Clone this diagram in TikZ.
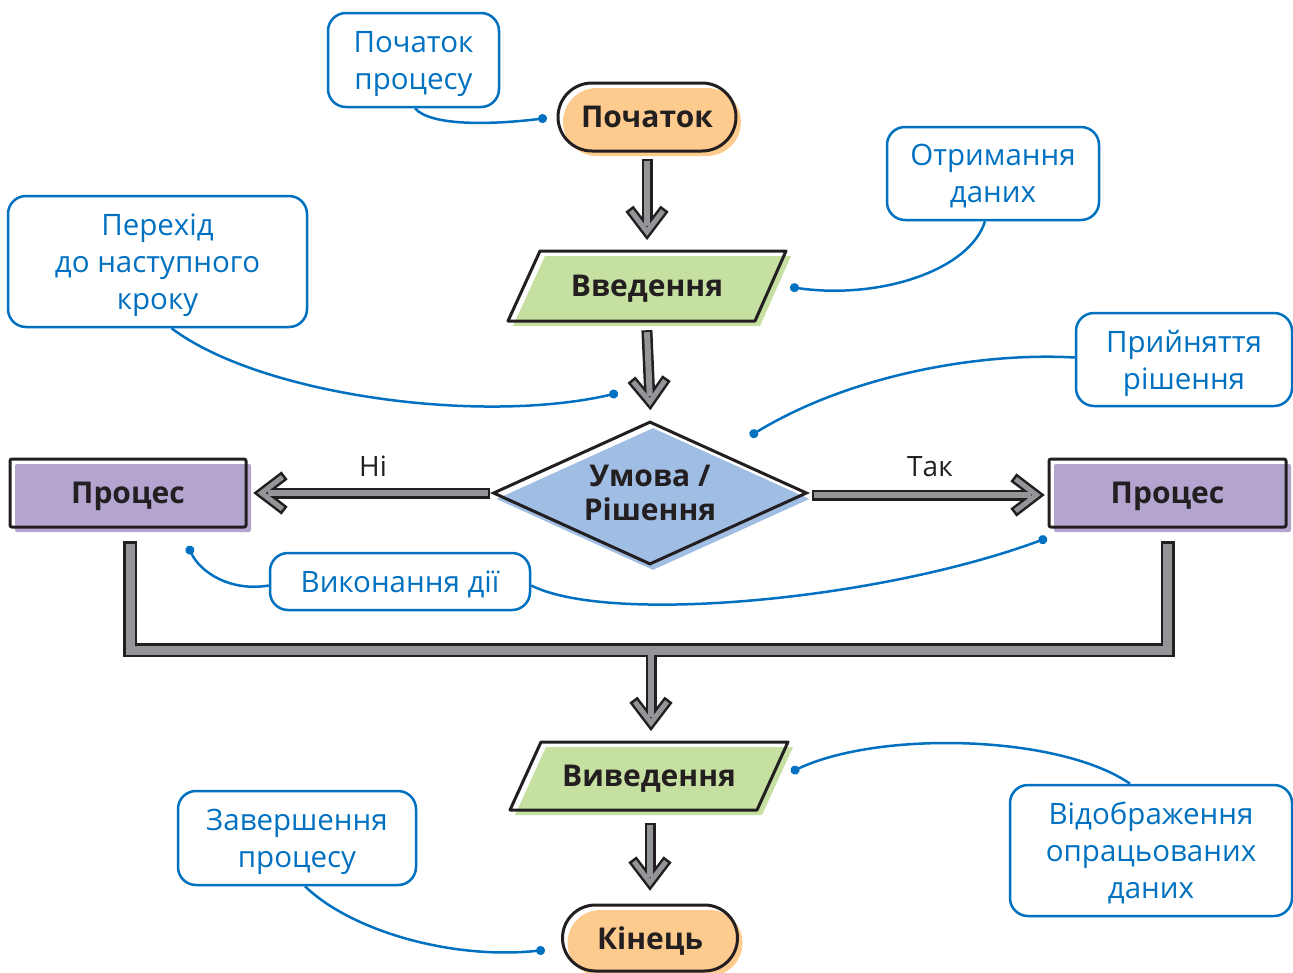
\documentclass[tikz,border=0pt]{standalone}
\usepackage{fontspec}
\setmainfont{Open Sans}
\usetikzlibrary{shapes.misc,shapes.geometric,shadows,calc,arrows.meta}
\definecolor{txtdark}{HTML}{231F20}
\definecolor{orangefill}{HTML}{FDCB8D}
\definecolor{greenfill}{HTML}{C5E0A0}
\definecolor{bluefill}{HTML}{A0BDE4}
\definecolor{purplefill}{HTML}{B4A4D0}
\definecolor{cblue}{HTML}{0070C0}
\definecolor{agray}{HTML}{939598}
\newcommand\flowarrow[3][2pt]{%
  \coordinate (fgm) at ($(#3)!21pt!(#2)$);
  \coordinate (fgl) at ($(fgm)!16pt!90:(#3)$);
  \coordinate (fgr) at ($(fgm)!16pt!-90:(#3)$);
  \coordinate (fbl) at ($(#3)!1.1!(fgl)$);
  \coordinate (fbr) at ($(#3)!1.1!(fgr)$);
  \draw[arrowout,line width=11pt] ($(#2)!-#1!(#3)$) -- ($(#3)!6pt!(#2)$);
  \draw[arrowout,line width=10pt] (fbl) -- (#3) -- (fbr);
  \draw[arrowin,line width=6pt] (#2) -- ($(#3)!6pt!(#2)$);
  \draw[arrowin,line width=5pt] (fgl) -- (#3) -- (fgr);
}
\begin{document}
\begin{tikzpicture}[x=1pt,y=-1pt,
  arrowout/.style={draw=txtdark,line join=miter,line cap=butt},
  arrowin/.style={draw=agray,line join=miter,line cap=butt},
  flowshape/.style={draw=txtdark,line width=3pt,text=txtdark,inner sep=0pt,align=center,
    text depth=0pt,font=\bfseries\fontsize{30}{34}\selectfont},
  terminal/.style={flowshape,rounded rectangle,minimum height=68pt,
    general shadow={fill=orangefill,shadow xshift=5pt,shadow yshift=-5pt}},
  procbox/.style={flowshape,rectangle,rounded corners=2pt,minimum width=236pt,minimum height=68pt,
    general shadow={fill=purplefill,shadow xshift=5pt,shadow yshift=-5pt}},
  decbox/.style={flowshape,diamond,aspect=2.2,minimum width=314pt,minimum height=143pt,
    general shadow={fill=bluefill,shadow xshift=3pt,shadow yshift=-6pt}},
  iotext/.style={text=txtdark,inner sep=0pt,text depth=0pt,
    font=\bfseries\fontsize{30}{34}\selectfont},
  iofill/.style={fill=greenfill},
  ioline/.style={draw=txtdark,line width=3pt,line join=round},
  callout/.style={draw=cblue,line width=2.5pt,rounded corners=18pt,text=cblue,align=center,
    inner sep=0pt,text depth=0pt,font=\fontsize{29.5}{37}\selectfont},
  cline/.style={draw=cblue,line width=2.5pt,-{Circle[length=9pt]}},
  lbl/.style={text=txtdark,inner sep=0pt,text depth=0pt,font=\fontsize{28}{34}\selectfont}
]
\useasboundingbox (0,0) rectangle (1293,972);

% ---------- flow shapes ----------
\node[terminal,minimum width=178pt] (start) at (647,117) {Початок};

\fill[iofill] (545,256) -- (791,256) -- (760,326) -- (513,326) -- cycle;
\draw[ioline] (540,251) -- (786,251) -- (755,321) -- (508,321) -- cycle;
\node[iotext,minimum width=215pt,minimum height=70pt] (in) at (647,286) {Введення};

\node[decbox] (dec) at (650,493) {Умова /\\Рішення};

\node[procbox] (pl) at (128,493) {Процес};
\node[procbox,minimum width=237pt] (pr) at (1167.5,493) {Процес};

\fill[iofill] (546,747) -- (793,747) -- (762,815) -- (515,815) -- cycle;
\draw[ioline] (541,742) -- (788,742) -- (757,810) -- (510,810) -- cycle;
\node[iotext,minimum width=215pt,minimum height=68pt] (out) at (649,776) {Виведення};

\node[terminal,minimum width=175pt,minimum height=66pt] (end) at (650,938) {Кінець};

% ---------- arrows ----------
\coordinate (a1s) at ([yshift=-8pt]start.south);
\coordinate (a1e) at ([yshift=19pt]in.north);
\flowarrow{a1s}{a1e}
\coordinate (a2s) at ([yshift=-11pt]in.south);
\coordinate (a2e) at ([yshift=18pt]dec.north);
\flowarrow{a2s}{a2e}
\coordinate (a3s) at ([xshift=-4pt]dec.west);
\coordinate (a3e) at ([xshift=14pt]pl.east);
\flowarrow{a3s}{a3e}
\coordinate (a4s) at ([xshift=5pt,yshift=-2pt]dec.east);
\coordinate (a4e) at ([xshift=-11pt,yshift=-2pt]pr.west);
\flowarrow{a4s}{a4e}

\node[lbl] (no) at (373,466) {Ні};
\node[lbl] (yes) at (930,466) {Так};

% merge
\coordinate (ml) at ([xshift=2pt,yshift=-15pt]pl.south);
\coordinate (mr) at ([yshift=-15pt]pr.south);
\coordinate (mrg) at (651,650);
\coordinate (a5e) at ([xshift=2pt,yshift=19pt]out.north);
\draw[arrowout,line width=14pt] ([yshift=2.5pt]ml) |- (mrg) -| ([yshift=2.5pt]mr);
\flowarrow[0pt]{mrg}{a5e}
\draw[arrowin,line width=9pt] (ml) |- (mrg) -| (mr);

\coordinate (a6s) at ([xshift=1pt,yshift=-15pt]out.south);
\coordinate (a6e) at ([yshift=21pt]end.north);
\flowarrow{a6s}{a6e}

% ---------- callouts ----------
\node[callout,minimum width=171pt,minimum height=94pt] (c1) at (413.5,60) {Початок\\процесу};
\node[callout,minimum width=212pt,minimum height=93pt] (c2) at (993,173.5) {Отримання\\даних};
\node[callout,minimum width=299pt,minimum height=131pt] (c3) at (157.5,261.5) {Перехід\\до наступного\\кроку};
\node[callout,minimum width=216pt,minimum height=93pt] (c4) at (1184,359.5) {Прийняття\\рішення};
\node[callout,minimum width=260pt,minimum height=57pt] (c5) at (400,581.5) {Виконання дії};
\node[callout,minimum width=282pt,minimum height=131pt] (c6) at (1151,850.5) {Відображення\\опрацьованих\\даних};
\node[callout,minimum width=238pt,minimum height=94pt] (c7) at (297,838) {Завершення\\процесу};

\coordinate (d1) at (547,118);
\coordinate (d2) at (790,287);
\coordinate (d3) at (618,393);
\coordinate (d4) at (750,436);
\coordinate (d5a) at (188,546);
\coordinate (d5b) at (1047,538);
\coordinate (d6) at (791,772);
\coordinate (d7) at (545,950);

\draw[cline] ([xshift=1.5pt]c1.south) .. controls (430,126) and (490,125) .. (d1);
\draw[cline] ([xshift=-8pt]c2.south) .. controls (970,270) and (880,300) .. (d2);
\draw[cline] ([xshift=14pt]c3.south) .. controls (260,395) and (480,425) .. (d3);
\draw[cline] ([yshift=2pt]c4.west) .. controls (980,352) and (850,375) .. (d4);
\draw[cline] ([yshift=-4pt]c5.west) .. controls (230,592) and (200,572) .. (d5a);
\draw[cline] ([yshift=-4pt]c5.east) .. controls (610,625) and (880,600) .. (d5b);
\draw[cline] ([xshift=-21pt]c6.north) .. controls (1060,735) and (880,730) .. (d6);
\draw[cline] ([xshift=8pt]c7.south) .. controls (350,930) and (450,960) .. (d7);
\end{tikzpicture}
\end{document}
